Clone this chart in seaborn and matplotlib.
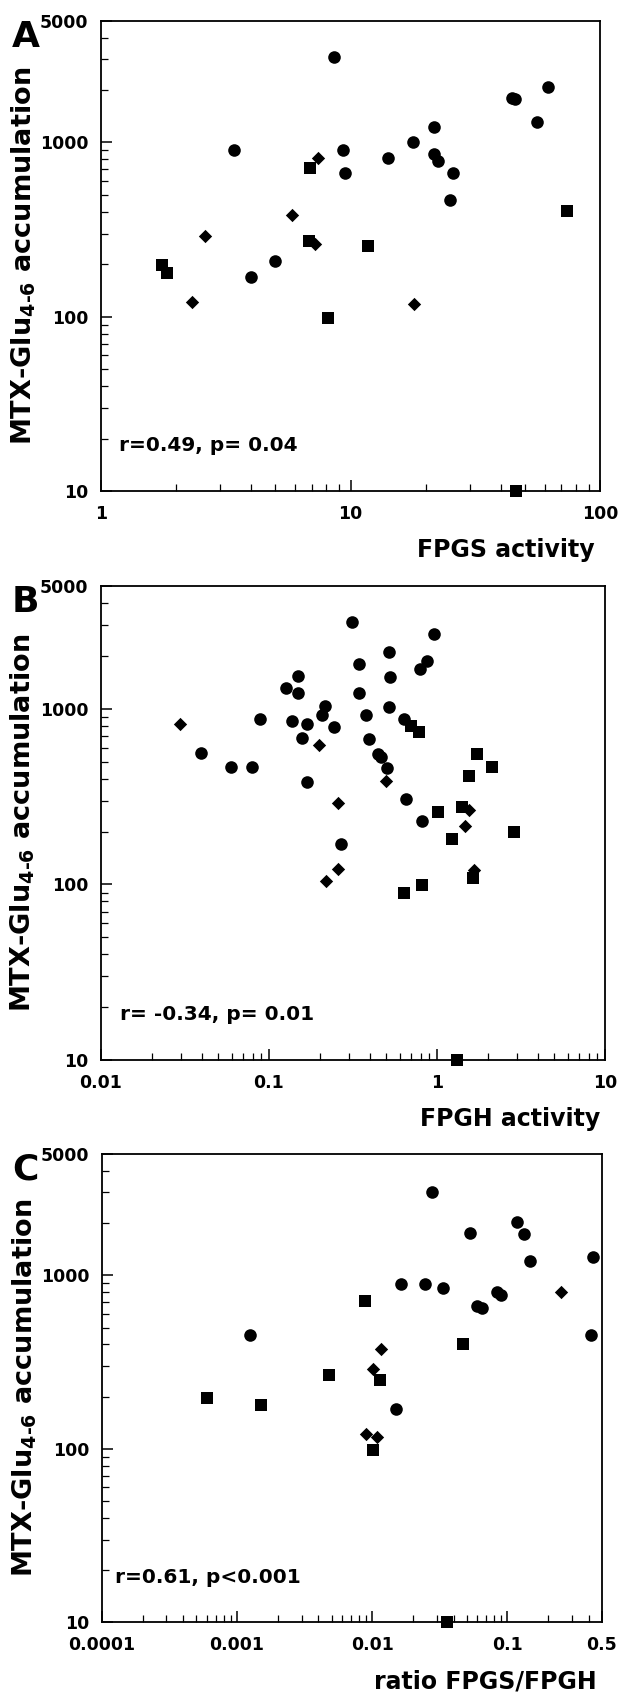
import numpy as np
import pandas as pd
import matplotlib
matplotlib.use("Agg")
import matplotlib.pyplot as plt
import matplotlib.ticker as mticker
import seaborn as sns

# Panel A: FPGS activity vs MTX-Glu4-6 accumulation
a_circle_x = [8.6, 3.4, 9.3, 9.5, 14.1, 17.8, 21.7, 21.6, 22.4, 25.7, 25.0, 44.2, 45.7, 61.8, 55.7, 4.0, 5.0]
a_circle_y = [3100, 910, 910, 670, 815, 1000, 1235, 860, 780, 670, 465, 1790, 1780, 2085, 1315, 170, 210]
a_square_x = [6.86, 6.79, 11.8, 1.75, 1.84, 8.1, 73.7, 45.9]
a_square_y = [718, 272, 256, 197, 178, 99, 406, 10]
a_diamond_x = [7.41, 5.84, 2.60, 7.22, 2.31, 18.0]
a_diamond_y = [820, 385, 289, 262, 122, 118]

# Panel B: FPGH activity
b_circle_x = [0.313, 0.957, 0.520, 0.867, 0.791, 0.344, 0.525, 0.148, 0.126, 0.148, 0.344, 0.216,
              0.208, 0.520, 0.377, 0.0887, 0.138, 0.169, 0.245, 0.635, 0.157, 0.394, 0.444, 0.466,
              0.502, 0.0394, 0.0598, 0.0795, 0.169, 0.650, 0.813, 0.269]
b_circle_y = [3110, 2660, 2085, 1875, 1675, 1785, 1505, 1525, 1305, 1230, 1230, 1035,
              918, 1018, 918, 877, 845, 813, 791, 869, 678, 668, 554, 531,
              459, 562, 466, 466, 383, 306, 231, 170]
b_square_x = [0.705, 0.778, 1.73, 2.12, 1.56, 1.40, 1.02, 1.22, 2.88, 1.64, 0.813, 0.635, 1.31]
b_square_y = [798, 734, 549, 466, 414, 276, 257, 182, 200, 109, 99, 90, 10]
b_diamond_x = [0.0294, 0.199, 0.497, 0.257, 1.56, 1.47, 0.259, 0.219, 1.67]
b_diamond_y = [818, 622, 390, 292, 266, 215, 123, 104, 121]

# Panel C: ratio FPGS/FPGH
c_circle_x = [0.0277, 0.118, 0.133, 0.0526, 0.147, 0.433, 0.0163, 0.0244, 0.0337, 0.0834, 0.0904,
              0.0594, 0.0645, 0.00124, 0.418, 0.0149]
c_circle_y = [3030, 2030, 1730, 1745, 1215, 1275, 890, 890, 843, 796, 766, 662, 649, 451, 451, 169]
c_square_x = [0.0088, 0.047, 0.00479, 0.0114, 0.000603, 0.0015, 0.0101, 0.0356]
c_square_y = [711, 400, 267, 250, 197, 179, 98, 10]
c_diamond_x = [0.249, 0.0117, 0.0101, 0.00898, 0.0108]
c_diamond_y = [804, 375, 287, 122, 117]

y_ticks = [10, 100, 1000, 5000]
y_ticklabels = ["10", "100", "1000", "5000"]

panels = [
    dict(letter="A", xlabel="FPGS activity", stat="r=0.49, p= 0.04",
         xlim=(1, 100), xticks=[1, 10, 100], xticklabels=["1", "10", "100"],
         circle=(a_circle_x, a_circle_y), square=(a_square_x, a_square_y),
         diamond=(a_diamond_x, a_diamond_y)),
    dict(letter="B", xlabel="FPGH activity", stat="r= -0.34, p= 0.01",
         xlim=(0.01, 10), xticks=[0.01, 0.1, 1, 10], xticklabels=["0.01", "0.1", "1", "10"],
         circle=(b_circle_x, b_circle_y), square=(b_square_x, b_square_y),
         diamond=(b_diamond_x, b_diamond_y)),
    dict(letter="C", xlabel="ratio FPGS/FPGH", stat="r=0.61, p<0.001",
         xlim=(0.0001, 0.5), xticks=[0.0001, 0.001, 0.01, 0.1, 0.5],
         xticklabels=["0.0001", "0.001", "0.01", "0.1", "0.5"],
         circle=(c_circle_x, c_circle_y), square=(c_square_x, c_square_y),
         diamond=(c_diamond_x, c_diamond_y)),
]

sns.set_theme(style="ticks")
plt.rcParams["font.family"] = ["DejaVu Sans"]
plt.rcParams["font.weight"] = "bold"
plt.rcParams["mathtext.default"] = "bf"
for key in ["text.color", "axes.labelcolor", "xtick.color", "ytick.color", "axes.edgecolor"]:
    plt.rcParams[key] = "black"

W, H = 620, 1695
fig = plt.figure(figsize=(W / 100, H / 100), dpi=100)

# axes boxes in pixels: left, top, right, bottom
boxes = [(101, 20.7, 600, 491), (101, 585.7, 605, 1060.3), (102, 1154, 601.7, 1622.3)]
stat_x = [0.036, 0.038, 0.026]

markers = {"circle": ("o", 82), "square": ("s", 82), "diamond": ("D", 46)}

for p, (l, t, r, b), sx in zip(panels, boxes, stat_x):
    ax = fig.add_axes([l / W, 1 - b / H, (r - l) / W, (b - t) / H])
    ax.set_xscale("log")
    ax.set_yscale("log")
    for name, (mk, size) in markers.items():
        xs, ys = p[name]
        df = pd.DataFrame({"x": xs, "y": ys})
        sns.scatterplot(data=df, x="x", y="y", marker=mk, s=size, color="black",
                        edgecolor="black", linewidth=0, ax=ax, clip_on=False, zorder=3)
    ax.set_xlim(*p["xlim"])
    ax.set_ylim(10, 5000)
    ax.set_xticks(p["xticks"], p["xticklabels"])
    ax.set_yticks(y_ticks, y_ticklabels)
    ax.xaxis.set_minor_locator(mticker.LogLocator(base=10, subs=np.arange(2, 10), numticks=20))
    ax.yaxis.set_minor_locator(mticker.LogLocator(base=10, subs=np.arange(2, 10), numticks=20))
    ax.xaxis.set_minor_formatter(mticker.NullFormatter())
    ax.yaxis.set_minor_formatter(mticker.NullFormatter())
    ax.tick_params(which="major", direction="in", length=8, width=1.1, labelsize=12.5, pad=9,
                   colors="black")
    ax.tick_params(which="minor", direction="in", length=5, width=0.9, colors="black")
    ax.tick_params(axis="x", which="major", pad=10)
    for sp in ax.spines.values():
        sp.set_linewidth(1.3)
        sp.set_color("black")
    ax.set_xlabel("")
    ax.set_ylabel("")
    ax.text(sx, 0.096, p["stat"], transform=ax.transAxes, fontsize=14.5,
            fontweight="bold", ha="left", va="center", color="black")
    ax.text(-0.155, 0.5, "MTX-Glu$_{4\u20106}$ accumulation", transform=ax.transAxes,
            rotation=90, fontsize=19.5, fontweight="bold", ha="center", va="center", color="black")
    ax.text(0.99, -(59 / (b - t)), p["xlabel"], transform=ax.transAxes,
            fontsize=17, fontweight="bold", ha="right", va="center", color="black")
    fig.text(12 / W, 1 - (t - 1) / H, p["letter"], fontsize=26, fontweight="bold",
             ha="left", va="top", color="black")

fig.savefig("out.png", dpi=100, facecolor="white")
